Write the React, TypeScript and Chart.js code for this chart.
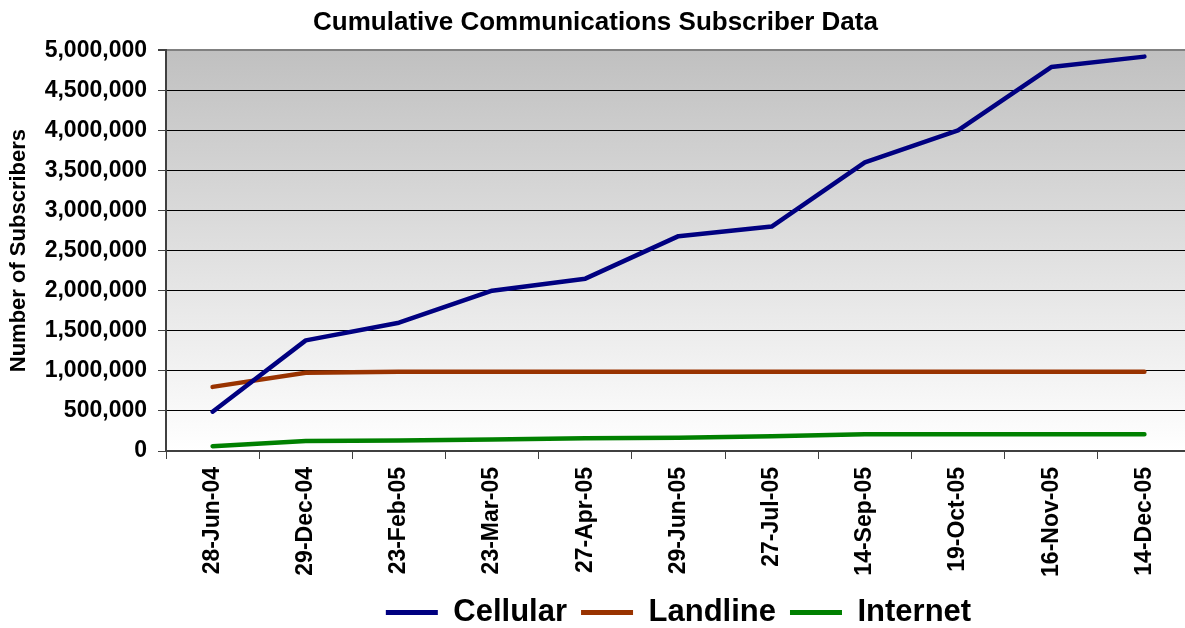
import React, { useEffect, useRef } from "react";
import { Chart, registerables } from "chart.js";

Chart.register(...registerables);

const categories = [
  "28-Jun-04", "29-Dec-04", "23-Feb-05", "23-Mar-05", "27-Apr-05", "29-Jun-05",
  "27-Jul-05", "14-Sep-05", "19-Oct-05", "16-Nov-05", "14-Dec-05",
];
const cellular = [490000, 1380000, 1600000, 2000000, 2150000, 2680000, 2800000, 3600000, 4000000, 4790000, 4920000];
const landline = [800000, 975000, 988000, 990000, 990000, 990000, 990000, 990000, 990000, 990000, 990000];
const internet = [60000, 125000, 130000, 145000, 160000, 165000, 185000, 210000, 210000, 210000, 210000];

const FONT = "'Liberation Sans', Arial, Helvetica, sans-serif";

const bgPlugin = {
  id: "plotBg",
  beforeDraw(chart: any) {
    const { ctx, chartArea } = chart;
    if (!chartArea) return;
    const g = ctx.createLinearGradient(0, chartArea.top, 0, chartArea.bottom);
    g.addColorStop(0, "#c0c0c0");
    g.addColorStop(1, "#ffffff");
    ctx.save();
    ctx.fillStyle = g;
    ctx.fillRect(chartArea.left, chartArea.top, chartArea.right - chartArea.left, chartArea.bottom - chartArea.top);
    ctx.restore();
  },
};

export default function App() {
  const ref = useRef<HTMLCanvasElement | null>(null);
  useEffect(() => {
    if (!ref.current) return;
    const chart = new Chart(ref.current, {
      type: "line",
      data: {
        labels: categories,
        datasets: [
          { label: "Cellular", data: cellular, borderColor: "#000080", backgroundColor: "#000080" },
          { label: "Landline", data: landline, borderColor: "#993300", backgroundColor: "#993300" },
          { label: "Internet", data: internet, borderColor: "#008000", backgroundColor: "#008000" },
        ].map((d) => ({
          ...d,
          borderWidth: 4.5,
          pointRadius: 0,
          tension: 0,
          borderCapStyle: "round" as const,
          borderJoinStyle: "round" as const,
        })),
      },
      options: {
        responsive: false,
        animation: false,
        layout: { padding: { right: 2, bottom: 2, left: 0, top: 0 } },
        plugins: {
          title: {
            display: true,
            text: "Cumulative Communications Subscriber Data",
            color: "#000",
            font: { family: FONT, size: 26, weight: "bold" },
            padding: { top: 7, bottom: 12 },
          },
          legend: {
            position: "bottom",
            fullSize: false,
            labels: {
              color: "#000",
              font: { family: FONT, size: 31, weight: "bold" },
              boxWidth: 52,
              boxHeight: 5,
              padding: 14,
              generateLabels: (chart: any) =>
                Chart.defaults.plugins.legend.labels.generateLabels(chart).map((l: any) => ({
                  ...l,
                  lineWidth: 0,
                  strokeStyle: "rgba(0,0,0,0)",
                })),
            },
          },
          tooltip: { enabled: false },
        },
        scales: {
          x: {
            type: "category",
            offset: true,
            afterFit: (s: any) => { s.height = 132; },
            grid: { offset: true, drawOnChartArea: false, drawTicks: true, tickLength: 8, color: "#404040" },
            border: { display: true, color: "#404040", width: 2 },
            ticks: {
              autoSkip: false,
              minRotation: 90,
              maxRotation: 90,
              padding: 8,
              color: "#000",
              font: { family: FONT, size: 23, weight: "bold" },
            },
          },
          y: {
            min: 0,
            max: 5000000,
            afterFit: (s: any) => { s.width = 166; },
            title: {
              display: true,
              text: "Number of Subscribers",
              color: "#000",
              font: { family: FONT, size: 22, weight: "bold" },
              padding: { top: 6, bottom: 0 },
            },
            grid: {
              color: (c: any) => (c.tick && c.tick.value === 5000000 ? "#808080" : "#000000"),
              lineWidth: (c: any) => (c.tick && c.tick.value === 5000000 ? 2 : 1),
              tickLength: 8,
              tickColor: "#404040",
            },
            border: { display: true, color: "#404040", width: 2 },
            ticks: {
              stepSize: 500000,
              padding: 11,
              color: "#000",
              font: { family: FONT, size: 23, weight: "bold" },
              callback: (v: any) => Number(v).toLocaleString("en-US"),
            },
          },
        },
      },
      plugins: [bgPlugin],
    });
    return () => chart.destroy();
  }, []);

  return (
    <div style={{ position: "absolute", left: 0, top: 0, width: 1185, height: 628, overflow: "hidden", background: "#fff" }}>
      <canvas ref={ref} width={1193} height={640} style={{ display: "block", width: 1193, height: 640 }} />
    </div>
  );
}
